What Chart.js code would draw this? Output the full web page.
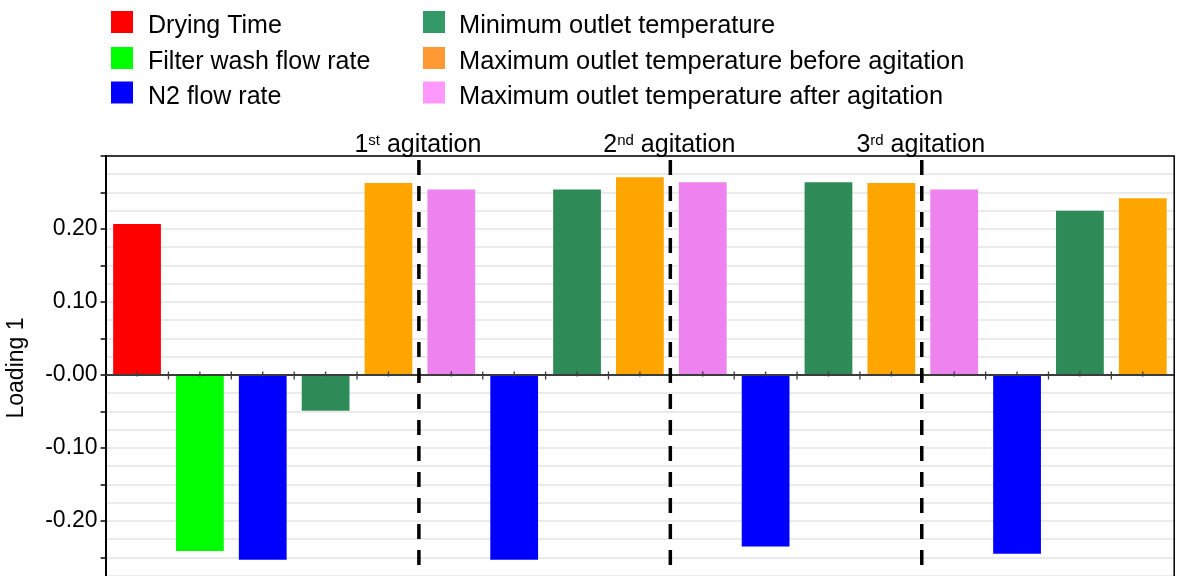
<!DOCTYPE html>
<html>
<head>
<meta charset="utf-8">
<script src="https://cdn.jsdelivr.net/npm/chart.js@4.4.1/dist/chart.umd.min.js"></script>
<style>
  html, body { margin: 0; padding: 0; background: #fff; overflow: hidden; }
  #wrap { width: 1182px; height: 614px; }
</style>
</head>
<body>
<div id="wrap"><canvas id="chart" width="1182" height="614"></canvas></div>
<script>
// Process variables and their colours
const variables = [
  'Drying Time',
  'Filter wash flow rate',
  'N2 flow rate',
  'Minimum outlet temperature',
  'Maximum outlet temperature before agitation',
  'Maximum outlet temperature after agitation'
];
const barColors = ['#ff0000', '#00ff00', '#0000ff', '#2e8b57', '#ffa500', '#ee82ee'];
const legendColors = ['#ff0000', '#00ff00', '#0000ff', '#339966', '#ff9933', '#ff99ff'];

// One bar per variable and phase
const categories = [
  'DT', 'FW', 'N2-0', 'Tmin-0', 'Tmax-0',
  'Tafter-1', 'N2-1', 'Tmin-1', 'Tmax-1',
  'Tafter-2', 'N2-2', 'Tmin-2', 'Tmax-2',
  'Tafter-3', 'N2-3', 'Tmin-3', 'Tmax-3'
];
const barVariable = [0, 1, 2, 3, 4, 5, 2, 3, 4, 5, 2, 3, 4, 5, 2, 3, 4];
const loadings = [
  0.207, -0.241, -0.253, -0.049, 0.263,
  0.254, -0.253, 0.254, 0.271,
  0.264, -0.235, 0.264, 0.263,
  0.254, -0.245, 0.225, 0.242
];

// Agitation events: index of the last bar before each one
const agitationAfter = [4, 8, 12];
const agitationLabels = [['1', 'st'], ['2', 'nd'], ['3', 'rd']];

// Y axis
const yMin = -0.30, yMax = 0.30, yStep = 0.025;
const tickValues = [0.20, 0.10, 0.00, -0.10, -0.20];
const tickLabels = ['0.20', '0.10', '-0.00', '-0.10', '-0.20'];
const yTitle = 'Loading 1';

const FONT = "'Liberation Sans', Arial, sans-serif";

const stepIndex = v => Math.round(v / yStep);

const decorations = {
  id: 'decorations',
  afterDatasetsDraw(chart) {
    const ctx = chart.ctx;
    const area = chart.chartArea;
    const x = chart.scales.x;
    const y = chart.scales.y;
    const y0 = y.getPixelForValue(0);

    // zero line with small tick marks
    ctx.save();
    ctx.strokeStyle = '#3c3c3c';
    ctx.lineWidth = 2;
    ctx.beginPath();
    ctx.moveTo(area.left, y0);
    ctx.lineTo(area.right, y0);
    ctx.stroke();
    ctx.lineWidth = 1.3;
    ctx.beginPath();
    for (let i = 0; i < categories.length; i++) {
      const c = x.getPixelForValue(i);
      ctx.moveTo(c, y0 - 3.5);
      ctx.lineTo(c, y0 + 1.5);
      if (i < categories.length - 1) {
        const b = (c + x.getPixelForValue(i + 1)) / 2;
        ctx.moveTo(b, y0 - 3.5);
        ctx.lineTo(b, y0 + 4.5);
      }
    }
    ctx.stroke();
    ctx.restore();

    // dashed agitation markers and their labels
    ctx.save();
    agitationAfter.forEach((idx, k) => {
      const px = (x.getPixelForValue(idx) + x.getPixelForValue(idx + 1)) / 2 - 1;
      ctx.strokeStyle = '#000';
      ctx.lineWidth = 3.5;
      ctx.setLineDash([15, 11]);
      ctx.beginPath();
      ctx.moveTo(px, area.top + 4);
      ctx.lineTo(px, area.bottom);
      ctx.stroke();
      ctx.setLineDash([]);

      const [num, sup] = agitationLabels[k];
      const rest = ' agitation';
      ctx.fillStyle = '#000';
      ctx.textBaseline = 'alphabetic';
      ctx.textAlign = 'left';
      ctx.font = '25px ' + FONT;
      const wNum = ctx.measureText(num).width;
      const wRest = ctx.measureText(rest).width;
      ctx.font = '15px ' + FONT;
      const wSup = ctx.measureText(sup).width;
      const base = area.top - 4;
      let tx = px - 1 - (wNum + wSup + wRest) / 2;
      ctx.font = '25px ' + FONT;
      ctx.fillText(num, tx, base);
      tx += wNum;
      ctx.font = '15px ' + FONT;
      ctx.fillText(sup, tx, base - 7.5);
      tx += wSup;
      ctx.font = '25px ' + FONT;
      ctx.fillText(rest, tx, base);
    });
    ctx.restore();

    // top and right frame
    ctx.save();
    ctx.strokeStyle = '#000';
    ctx.lineWidth = 1.5;
    ctx.beginPath();
    ctx.moveTo(area.left, area.top);
    ctx.lineTo(area.right, area.top);
    ctx.lineTo(area.right, area.bottom);
    ctx.stroke();
    ctx.restore();
  },
  afterDraw(chart) {
    const ctx = chart.ctx;
    ctx.save();
    // y axis title
    ctx.fillStyle = '#000';
    ctx.font = '23px ' + FONT;
    ctx.textAlign = 'center';
    ctx.textBaseline = 'middle';
    ctx.translate(17, 368);
    ctx.rotate(-Math.PI / 2);
    ctx.fillText(yTitle, 0, 0);
    ctx.restore();

    // legend: two columns of three entries
    ctx.save();
    ctx.textAlign = 'left';
    ctx.textBaseline = 'alphabetic';
    const colSwatch = [111, 423];
    const colText = [148, 459];
    const colFont = [25, 25.4];
    const rowCenter = [22, 58, 92.5];
    variables.forEach((name, i) => {
      const col = Math.floor(i / 3), row = i % 3;
      ctx.fillStyle = legendColors[i];
      ctx.fillRect(colSwatch[col], rowCenter[row] - 11, 22, 22);
      ctx.fillStyle = '#000';
      ctx.font = colFont[col] + 'px ' + FONT;
      ctx.fillText(name, colText[col], rowCenter[row] + 11);
    });
    ctx.restore();
  }
};

new Chart(document.getElementById('chart'), {
  type: 'bar',
  data: {
    labels: categories,
    datasets: [{
      data: loadings,
      backgroundColor: barVariable.map(v => barColors[v]),
      borderWidth: 0,
      barPercentage: 0.76,
      categoryPercentage: 1.0
    }]
  },
  options: {
    responsive: false,
    devicePixelRatio: 1,
    animation: false,
    layout: { padding: { top: 156, right: 7.8, bottom: 20, left: 0 } },
    plugins: { legend: { display: false }, tooltip: { enabled: false } },
    scales: {
      x: {
        display: false,
        offset: true
      },
      y: {
        min: yMin,
        max: yMax,
        afterFit(scale) { scale.width = 105.6; },
        border: { display: true, color: '#000', width: 2 },
        grid: {
          color: '#ebebeb',
          lineWidth: 2,
          drawTicks: true,
          tickLength: 5,
          tickWidth: 1.5,
          tickColor: c => (c.tick && stepIndex(c.tick.value) % 2 === 0) ? '#000' : 'rgba(0,0,0,0)'
        },
        ticks: {
          stepSize: yStep,
          autoSkip: false,
          padding: 3,
          color: '#000',
          font: { family: FONT, size: 23 },
          callback: v => {
            const i = tickValues.findIndex(t => Math.abs(t - v) < 1e-9);
            return i >= 0 ? tickLabels[i] : '';
          }
        }
      }
    }
  },
  plugins: [decorations]
});
</script>
</body>
</html>
